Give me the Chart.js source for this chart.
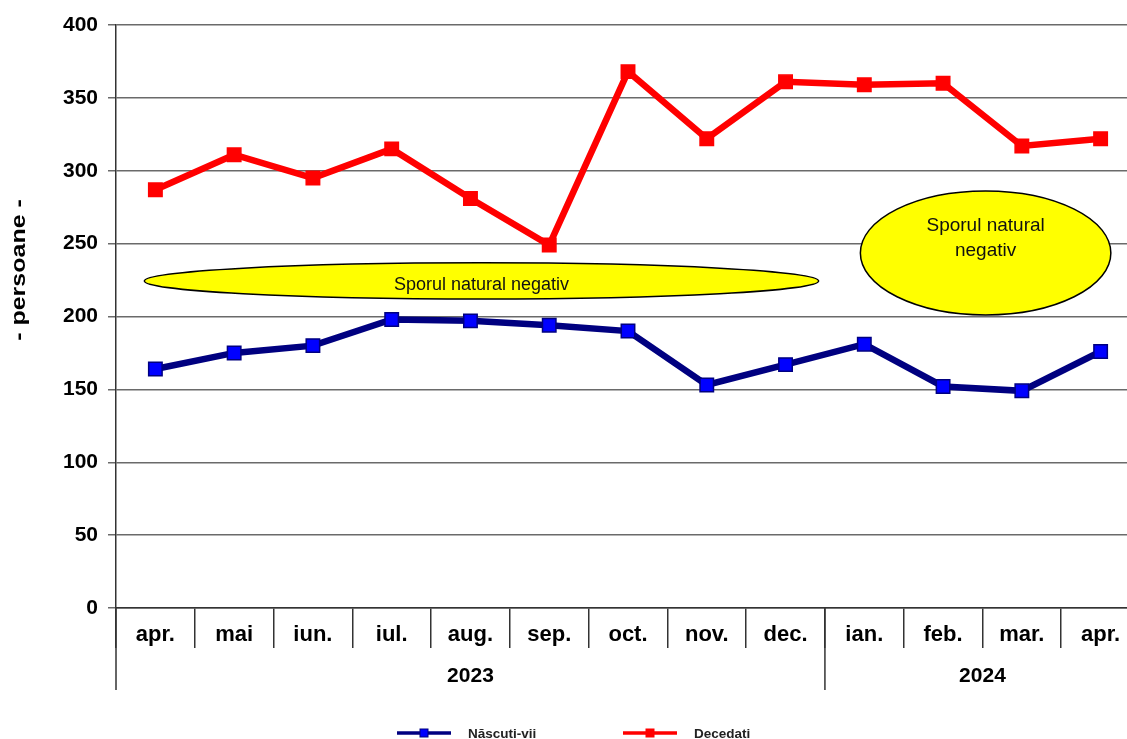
<!DOCTYPE html>
<html><head><meta charset="utf-8">
<script src="https://cdn.jsdelivr.net/npm/chart.js@4.4.1/dist/chart.umd.min.js"></script>
<style>
html,body{margin:0;padding:0;background:#fff;overflow:hidden;width:1127px;height:739px}
#wrap{width:1140px;height:739px;position:relative}
canvas{display:block}
</style></head><body>
<div id="wrap"><canvas id="c" width="1140" height="739"></canvas></div>
<script>
// ---- data ----
const months = ['apr.','mai','iun.','iul.','aug.','sep.','oct.','nov.','dec.','ian.','feb.','mar.','apr.'];
const years = ['2023','2024'];
const yearSpans = [9, 4];
const nascutiVii = [164,175,180,198,197,194,190,153,167,181,152,149,176];
const decedati = [287,311,295,315,281,249,368,322,361,359,360,317,322];
const seriesNames = ['Născuți-vii','Decedați'];
const yTickValues = [0,50,100,150,200,250,300,350,400];
const yTitle = '- persoane -';
const noteLines1 = ['Sporul natural negativ'];
const noteLines2 = ['Sporul natural','negativ'];

// ---- styles / annotation geometry ----
const FONT = "'Liberation Sans', Arial, sans-serif";
const NOTE_FONT = "'Liberation Sans Narrow', 'Liberation Sans', Arial, sans-serif";
const GRID = '#6a6a6a';
const notes = [
  {lines: noteLines1, cx: 4.14, cy: 224.4, rx: 4.28, ry: 12.4, textDy: 4, size: 18},
  {lines: noteLines2, cx: 10.54, cy: 243.6, rx: 1.59, ry: 42.5, textDy: -15, size: 19}
];
const colors = [
  {line:'#000080', fill:'#0000FF', border:'#000080'},
  {line:'#FF0000', fill:'#FF0000', border:'#FF0000'}
];

const decor = {
  id: 'decor',
  beforeDatasetsDraw(chart) {
    const ctx = chart.ctx, xs = chart.scales.x, ys = chart.scales.y;
    notes.forEach(n => {
      const cx = xs.getPixelForValue(n.cx);
      const cy = ys.getPixelForValue(n.cy);
      const rx = Math.abs(xs.getPixelForValue(n.cx + n.rx) - cx);
      const ry = Math.abs(ys.getPixelForValue(n.cy + n.ry) - cy);
      ctx.save();
      ctx.beginPath();
      ctx.ellipse(cx, cy, rx, ry, 0, 0, Math.PI * 2);
      ctx.fillStyle = '#FFFF00';
      ctx.fill();
      ctx.lineWidth = 1.5;
      ctx.strokeStyle = '#000';
      ctx.stroke();
      ctx.fillStyle = '#111';
      ctx.font = n.size + 'px ' + NOTE_FONT;
      ctx.textAlign = 'center';
      ctx.textBaseline = 'middle';
      const lh = n.size * 1.3;
      const y0 = cy + n.textDy - (n.lines.length - 1) * lh / 2;
      n.lines.forEach((t, i) => ctx.fillText(t, cx, y0 + i * lh));
      ctx.restore();
    });
  },
  afterDraw(chart) {
    const ctx = chart.ctx, xs = chart.scales.x, area = chart.chartArea;
    const bottom = area.bottom, lowY = bottom + 82;
    ctx.save();
    ctx.strokeStyle = '#333';
    ctx.lineWidth = 1.5;
    let idx = 0;
    const bounds = [area.left];
    yearSpans.forEach(s => { idx += s; bounds.push(idx < months.length ? (xs.getPixelForValue(idx - 1) + xs.getPixelForValue(idx)) / 2 : area.right); });
    bounds.slice(0, -1).forEach(bx => {
      ctx.beginPath(); ctx.moveTo(bx, bottom); ctx.lineTo(bx, lowY); ctx.stroke();
    });
    // year labels
    ctx.fillStyle = '#000';
    ctx.font = 'bold 21px ' + FONT;
    ctx.textAlign = 'center';
    ctx.textBaseline = 'middle';
    years.forEach((y, i) => ctx.fillText(y, (bounds[i] + bounds[i + 1]) / 2, bottom + 68));
    // y title
    ctx.save();
    ctx.translate(19, 270);
    ctx.rotate(-Math.PI / 2);
    ctx.scale(1.25, 1);
    ctx.font = 'bold 20px ' + FONT;
    ctx.fillText(yTitle, 0, 0);
    ctx.restore();
    // legend
    const ly = 733;
    const legendX = [397, 623];
    seriesNames.forEach((name, i) => {
      const x0 = legendX[i], c = colors[i];
      ctx.strokeStyle = c.line;
      ctx.lineWidth = 3.5;
      ctx.beginPath(); ctx.moveTo(x0, ly); ctx.lineTo(x0 + 54, ly); ctx.stroke();
      ctx.fillStyle = c.fill;
      ctx.fillRect(x0 + 23, ly - 4, 8, 8);
      ctx.strokeStyle = c.border; ctx.lineWidth = 1;
      ctx.strokeRect(x0 + 23, ly - 4, 8, 8);
      ctx.fillStyle = '#222';
      ctx.font = 'bold 13.5px ' + FONT;
      ctx.textAlign = 'left';
      ctx.fillText(name, x0 + 71, ly + 1);
    });
    ctx.restore();
  }
};

new Chart(document.getElementById('c'), {
  type: 'line',
  data: {
    labels: months,
    datasets: [nascutiVii, decedati].map((d, i) => ({
      label: seriesNames[i],
      data: d,
      borderColor: colors[i].line,
      borderWidth: 6.5,
      tension: 0,
      pointStyle: 'rect',
      pointRadius: 9.5,
      pointHoverRadius: 9.5,
      pointBackgroundColor: colors[i].fill,
      pointBorderColor: colors[i].border,
      pointBorderWidth: 1.5
    }))
  },
  options: {
    responsive: false,
    animation: false,
    events: [],
    layout: {autoPadding: false, padding: {top: 25, left: 0, right: 0, bottom: 0}},
    plugins: {legend: {display: false}, tooltip: {enabled: false}},
    scales: {
      x: {
        type: 'category',
        offset: true,
        grid: {display: true, drawOnChartArea: false, drawTicks: true, tickLength: 40, color: '#333', lineWidth: 1.5, offset: true},
        border: {display: true, color: '#333', width: 1.5},
        ticks: {color: '#000', font: {family: FONT, size: 22, weight: 'bold'}, padding: -26, maxRotation: 0, autoSkip: false},
        afterFit(s) { s.height = 131; }
      },
      y: {
        min: 0, max: 400,
        afterBuildTicks(s) { s.ticks = yTickValues.map(v => ({value: v})); },
        grid: {color: GRID, lineWidth: 1.5, tickLength: 8, drawTicks: true},
        border: {display: true, color: '#333', width: 1.5},
        ticks: {color: '#000', font: {family: FONT, size: 21, weight: 'bold'}, padding: 10},
        afterFit(s) { s.width = 116; }
      }
    }
  },
  plugins: [decor]
});
</script>
</body></html>
